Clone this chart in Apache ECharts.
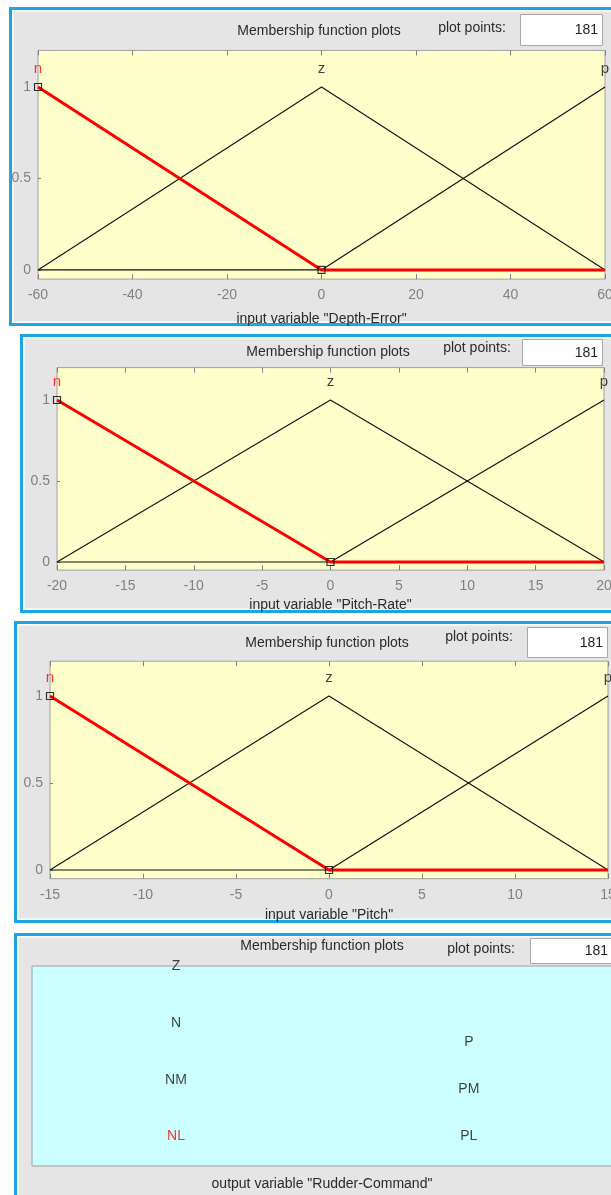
<!DOCTYPE html>
<html><head><meta charset="utf-8">
<script src="https://cdn.jsdelivr.net/npm/echarts@6/dist/echarts.min.js"></script>
<style>html,body{margin:0;padding:0;background:#fff;overflow:hidden}#c{width:611px;height:1195px}</style>
</head><body><div id="c"></div>
<script>
// ---- data ----
const depthX = [-60, 0, 60];
const pitchRateX = [-20, 0, 20];
const pitchX = [-15, 0, 15];
const mfNames = ['n', 'z', 'p'];
const nVals = [1, 0, 0];
const zVals = [0, 1, 0];
const pVals = [0, 0, 1];
const depthTicks = [-60, -40, -20, 0, 20, 40, 60];
const pitchRateTicks = [-20, -15, -10, -5, 0, 5, 10, 15, 20];
const pitchTicks = [-15, -10, -5, 0, 5, 10, 15];
const yTicks = [0, 0.5, 1];
const inputNames = ['Depth-Error', 'Pitch-Rate', 'Pitch'];
const outputName = 'Rudder-Command';
const plotPoints = 181;
const outMFNames = ['Z', 'N', 'NM', 'NL', 'P', 'PM', 'PL'];
const outMFX = [0.24, 0.24, 0.24, 0.24, 0.728, 0.728, 0.728];
const outMFY = [1.0, 0.715, 0.43, 0.15, 0.62, 0.385, 0.15];

// ---- layout ----
const FONT = 'Liberation Sans';
const BLUE = '#1aa6e4';
const PANEL_BG = '#e5e5e5';
const xsets = [depthX, pitchRateX, pitchX];
const tickSets = [depthTicks, pitchRateTicks, pitchTicks];
const panels = [
  {bx: 9, by: 7, bh: 319, gap: 33, grid: {left: 38, top: 50.4, width: 567, height: 228.7},
   hdr: [319, 31], pp: [472, 28], box: [520, 14, 82, 31]},
  {bx: 20, by: 334, bh: 279, gap: 28, grid: {left: 57, top: 367.6, width: 547, height: 202.5},
   hdr: [328, 352], pp: [477, 348], box: [522, 339, 80, 26]},
  {bx: 14, by: 621, bh: 302, gap: 29, grid: {left: 50, top: 661.2, width: 558, height: 217.5},
   hdr: [327, 643], pp: [479, 637], box: [527, 627, 80, 30]},
  {bx: 14, by: 933, bh: 300, gap: 0, grid: {left: 32, top: 966, width: 600, height: 200},
   hdr: [322, 946], pp: [481, 949], box: [530, 938, 82, 25]}
];

const graphics = [];
panels.forEach(p => {
  graphics.push({type: 'rect', z: -10, shape: {x: p.bx + 1.5, y: p.by + 1.5, width: 640, height: p.bh - 3},
    style: {fill: PANEL_BG, stroke: BLUE, lineWidth: 3}});
  graphics.push({type: 'rect', z: -9, shape: {x: p.bx + 3.75, y: p.by + 3.75, width: 640, height: p.bh - 7.5},
    style: {fill: 'none', stroke: '#ffffff', lineWidth: 1.5}});
  graphics.push({type: 'text', z: 5, style: {x: p.hdr[0], y: p.hdr[1], text: 'Membership function plots',
    font: '14px "' + FONT + '"', fill: '#2a2a2a', textAlign: 'center', textVerticalAlign: 'middle'}});
  graphics.push({type: 'text', z: 5, style: {x: p.pp[0], y: p.pp[1], text: 'plot points:',
    font: '14px "' + FONT + '"', fill: '#2a2a2a', textAlign: 'center', textVerticalAlign: 'middle'}});
  graphics.push({type: 'rect', z: 5, shape: {x: p.box[0] + 0.5, y: p.box[1] + 0.5, width: p.box[2], height: p.box[3]},
    style: {fill: '#fff', stroke: '#a8a8a8', lineWidth: 1}});
  graphics.push({type: 'text', z: 6, style: {x: p.box[0] + p.box[2] - 4, y: p.box[1] + p.box[3] / 2 + 1, text: String(plotPoints),
    font: '14px "' + FONT + '"', fill: '#222', textAlign: 'right', textVerticalAlign: 'middle'}});
});
graphics.push({type: 'text', z: 5, style: {x: 322, y: 1184, text: 'output variable "' + outputName + '"',
  font: '14px "' + FONT + '"', fill: '#2a2a2a', textAlign: 'center', textVerticalAlign: 'middle'}});

const grids = panels.map((p, i) => Object.assign({
  show: true, containLabel: false, outerBoundsMode: 'none',
  backgroundColor: i < 3 ? '#ffffcc' : '#ccffff',
  borderColor: '#a0a0a0', borderWidth: 1
}, p.grid));

const xAxes = [], yAxes = [], series = [];
for (let i = 0; i < 3; i++) {
  const xs = xsets[i];
  const ticks = tickSets[i];
  const common = {gridIndex: i, type: 'value', min: xs[0], max: xs[xs.length - 1], interval: ticks[1] - ticks[0],
    splitLine: {show: false}, axisLine: {show: false, onZero: false},
    axisTick: {show: true, inside: true, length: 5, lineStyle: {color: '#808080'}}};
  xAxes.push(Object.assign({}, common, {position: 'bottom',
    axisLabel: {color: '#808080', fontSize: 14, fontFamily: FONT, margin: 9},
    name: 'input variable "' + inputNames[i] + '"', nameLocation: 'middle', nameGap: panels[i].gap,
    nameTextStyle: {color: '#2a2a2a', fontSize: 14, fontFamily: FONT}}));
  xAxes.push(Object.assign({}, common, {position: 'top', axisLabel: {show: false}}));
  yAxes.push({gridIndex: i, type: 'value', min: -0.05, max: 1.2, position: 'left',
    splitLine: {show: false}, axisLine: {show: false, onZero: false},
    axisTick: {show: true, inside: true, length: 3, customValues: yTicks, lineStyle: {color: '#808080'}},
    axisLabel: {color: '#808080', fontSize: 14, fontFamily: FONT, margin: 7, customValues: yTicks}});
  const xIdx = i * 2, yIdx = i;
  const mk = vals => xs.map((x, k) => [x, vals[k]]);
  series.push({type: 'line', xAxisIndex: xIdx, yAxisIndex: yIdx, data: mk(pVals), showSymbol: false,
    lineStyle: {color: '#111', width: 1.2}, z: 3, animation: false});
  series.push({type: 'line', xAxisIndex: xIdx, yAxisIndex: yIdx, data: mk(zVals), showSymbol: false,
    lineStyle: {color: '#111', width: 1.1}, z: 3, animation: false});
  series.push({type: 'line', xAxisIndex: xIdx, yAxisIndex: yIdx, data: mk(nVals), showSymbol: false,
    lineStyle: {color: '#ff0000', width: 3}, z: 4, animation: false});
  // vertex markers of selected MF (n)
  series.push({type: 'scatter', xAxisIndex: xIdx, yAxisIndex: yIdx, data: mk(nVals).slice(0, 2),
    symbol: 'rect', symbolSize: 7, itemStyle: {color: 'rgba(0,0,0,0)', borderColor: '#000', borderWidth: 1.2},
    z: 6, animation: false, silent: true});
  // MF name labels above each peak
  const peaks = [nVals, zVals, pVals].map((v, k) => ({
    value: [xs[v.indexOf(1)], 1],
    label: {show: true, formatter: mfNames[k], position: 'top', distance: 11,
      color: k === 0 ? '#ff0000' : '#111', fontSize: 15, fontFamily: FONT}
  }));
  series.push({type: 'scatter', xAxisIndex: xIdx, yAxisIndex: yIdx, data: peaks, symbolSize: 0,
    itemStyle: {color: 'rgba(0,0,0,0)'}, z: 7, animation: false, silent: true});
}
// output panel axes (hidden)
xAxes.push({gridIndex: 3, type: 'value', min: 0, max: 1, show: false});
yAxes.push({gridIndex: 3, type: 'value', min: 0, max: 1, show: false});
series.push({type: 'scatter', xAxisIndex: 6, yAxisIndex: 3, symbolSize: 0, animation: false, silent: true,
  itemStyle: {color: 'rgba(0,0,0,0)'},
  data: outMFNames.map((nm, k) => ({value: [outMFX[k], outMFY[k]],
    label: {show: true, formatter: nm, position: 'inside', color: nm === 'NL' ? '#ff0000' : '#111',
      fontSize: 14, fontFamily: FONT}})),
  z: 7});

const chart = echarts.init(document.getElementById('c'), null, {renderer: 'canvas'});
chart.setOption({
  animation: false,
  graphic: {elements: graphics},
  grid: grids, xAxis: xAxes, yAxis: yAxes, series: series
});
</script></body></html>
